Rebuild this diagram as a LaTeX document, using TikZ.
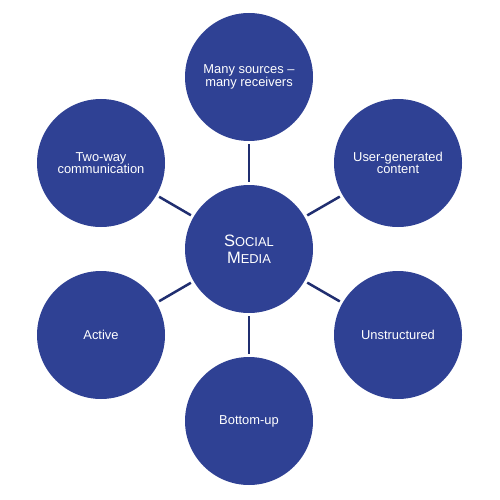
\documentclass[tikz,border=0pt]{standalone}
\usepackage{fontspec}
\setmainfont{Liberation Sans}
\definecolor{circfill}{RGB}{47,65,148}
\definecolor{linkcol}{RGB}{32,46,112}
\begin{document}
\begin{tikzpicture}[x=1pt,y=-1pt,
  bubble/.style={circle,fill=circfill,minimum size=128pt,inner sep=0pt,text=white,align=center,font=\fontsize{12.9}{12.7}\selectfont},
  link/.style={draw=linkcol,line width=2.5pt,shorten <=3pt,shorten >=3pt}]
\useasboundingbox (0,0) rectangle (500,500);
\node[bubble] (c) at (249,249) {};
\node[text=white,align=center,font=\fontsize{16.5}{16.7}\selectfont] (ct) at (249,249) {S{\fontsize{12.9}{12.9}\selectfont OCIAL}\\M{\fontsize{12.9}{12.9}\selectfont EDIA}};
\node[bubble] (t) at (249,77) {Many sources --\\many receivers};
\node[bubble] (tr) at (398,163) {User-generated\\content};
\node[bubble] (br) at (398,335) {Unstructured};
\node[bubble] (b) at (249,421) {Bottom-up};
\node[bubble] (bl) at (101,335) {Active};
\node[bubble] (tl) at (101,163) {Two-way\\communication};
\foreach \n in {t,tr,br,b,bl,tl} \draw[link] (c) -- (\n);
\end{tikzpicture}
\end{document}
